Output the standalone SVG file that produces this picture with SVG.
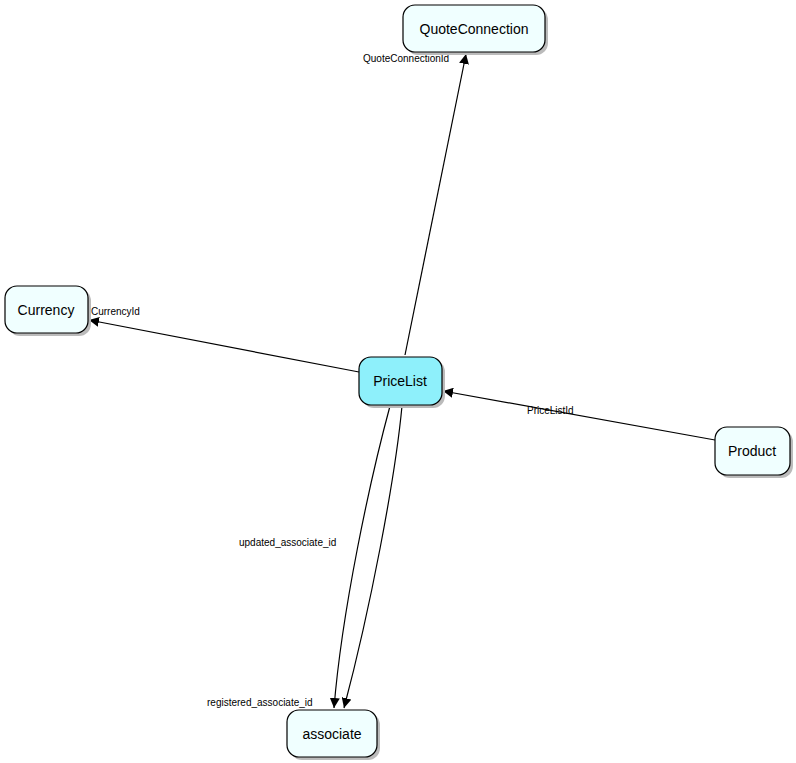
<svg xmlns="http://www.w3.org/2000/svg" width="796" height="763" viewBox="0 0 796 763">
<style>
.n{fill:#f0ffff;stroke:#000;stroke-width:1.2}
.s{fill:#bbb}
.t{font-family:"Liberation Sans",Arial,sans-serif;font-size:14px;text-anchor:middle}
.l{font-family:"Liberation Sans",Arial,sans-serif;font-size:10px}
.e{fill:none;stroke:#000;stroke-width:1.2}
</style>
<defs><marker id="a" viewBox="0 0 10 10" refX="10" refY="5" markerWidth="10" markerHeight="10" markerUnits="userSpaceOnUse" orient="auto"><path d="M0,0L10,5L0,10z"/></marker></defs>
<rect width="796" height="763" fill="#fff"/>
<g id="connectors">
<path class="e" d="M405,355L466,54" marker-end="url(#a)"/>
<path class="e" d="M359,372L89,320" marker-end="url(#a)"/>
<path class="e" d="M715,440L443,391" marker-end="url(#a)"/>
<path class="e" d="M390,406C370,480 342,610 334,708" marker-end="url(#a)"/>
<path class="e" d="M402,406C395,480 370,610 344,708" marker-end="url(#a)"/>
<text class="l" x="363" y="62">QuoteConnectionId</text>
<text class="l" x="91" y="315">CurrencyId</text>
<text class="l" x="527" y="414">PriceListId</text>
<text class="l" x="239" y="546">updated_associate_id</text>
<text class="l" x="207" y="706">registered_associate_id</text>
</g>
<g id="QuoteConnection"><rect class="s" x="406" y="8" width="142" height="47" rx="12"/><rect class="n" x="403" y="5" width="142" height="47" rx="12"/><text class="t" x="474" y="34">QuoteConnection</text></g>
<g id="Currency"><rect class="s" x="8" y="289" width="83" height="47" rx="12"/><rect class="n" x="5" y="286" width="83" height="47" rx="12"/><text class="t" x="46" y="315">Currency</text></g>
<g id="PriceList"><rect class="s" x="362" y="360" width="83" height="48" rx="12"/><rect class="n" style="fill:#8ef0fb" x="359" y="357" width="83" height="48" rx="12"/><text class="t" x="400" y="386">PriceList</text></g>
<g id="Product"><rect class="s" x="718" y="430" width="75" height="48" rx="12"/><rect class="n" x="715" y="427" width="75" height="48" rx="12"/><text class="t" x="752" y="456">Product</text></g>
<g id="associate"><rect class="s" x="290" y="713" width="90" height="47" rx="12"/><rect class="n" x="287" y="710" width="90" height="47" rx="12"/><text class="t" x="332" y="739">associate</text></g>
</svg>
